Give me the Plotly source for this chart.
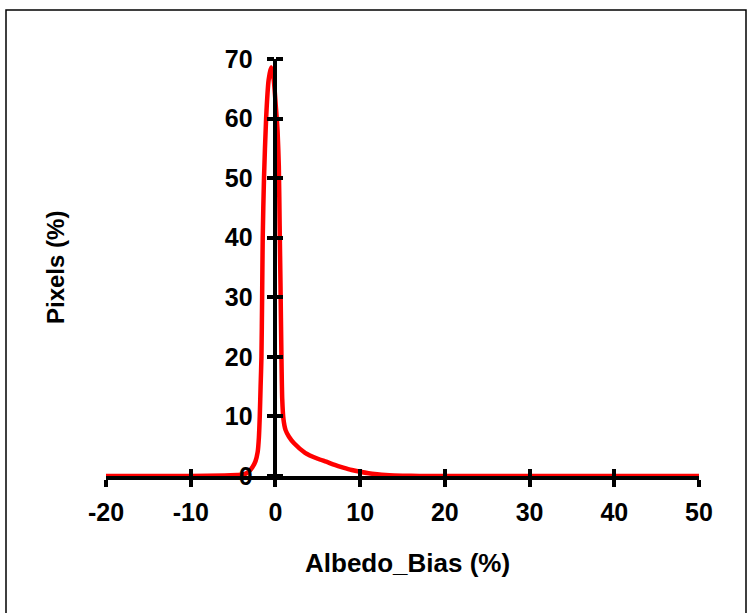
import plotly.graph_objects as go

# Data
bias = [-20, -15, -10, -6, -4.5, -4.0, -3.5, -3.1, -2.7, -2.35, -2.1, -1.95, -1.85, -1.75,
        -1.65, -1.57, -1.5, -1.35, -1.1, -0.8, -0.5, -0.2, 0.05, 0.25, 0.4, 0.5, 0.6, 0.7,
        0.8, 0.95, 1.2, 1.6, 2.2, 3.5, 5, 6, 7, 8, 9, 10, 11, 12, 13, 14, 16, 18, 20,
        25, 30, 35, 40, 45, 50]
pixels = [0, 0, 0.02, 0.08, 0.15, 0.2, 0.4, 0.8, 1.5, 2.5, 4, 6.5, 10, 15,
          20, 30, 40, 50, 60, 66.5, 68.6, 66.5, 62, 58, 52, 42, 32, 21,
          13, 9.5, 7.7, 6.6, 5.5, 3.9, 2.9, 2.4, 1.85, 1.4, 1.0, 0.7, 0.45, 0.28, 0.15, 0.08, 0.03, 0.01, 0,
          0, 0, 0, 0, 0, 0]

x_ticks = [-20, -10, 0, 10, 20, 30, 40, 50]
x_ticktext = ["-20", "-10", "0", "10", "20", "30", "40", "50"]
y_ticks = [0, 10, 20, 30, 40, 50, 60, 70]
y_ticktext = ["0", "10", "20", "30", "40", "50", "60", "70"]
x_range = [-20, 50]
y_range = [0, 70]

FONT = "Arial, 'Liberation Sans', sans-serif"

W, H = 749, 613
ML, MR, MT, MB = 106, 50, 59, 137
pw = W - ML - MR
ph = H - MT - MB

fig = go.Figure()
fig.add_trace(go.Scatter(
    x=bias, y=pixels, mode="lines",
    line=dict(color="#FF0000", width=4.5, shape="spline", smoothing=0.6),
    cliponaxis=False, showlegend=False, hoverinfo="skip"))
# dummy trace for overlay axes (cross ticks)
fig.add_trace(go.Scatter(x=[None], y=[None], xaxis="x2", yaxis="y2",
                         showlegend=False, hoverinfo="skip"))

ypos = (0 - x_range[0]) / (x_range[1] - x_range[0])
TICKFONT = dict(family=FONT, size=25, color="black", weight="bold")

fig.update_layout(
    width=W, height=H,
    margin=dict(l=ML, r=MR, t=MT, b=MB),
    paper_bgcolor="white", plot_bgcolor="white",
    font=dict(family=FONT, size=22, color="black"),
    xaxis=dict(range=x_range, tickvals=x_ticks, ticktext=x_ticktext,
               showgrid=False, zeroline=False,
               showline=True, linecolor="black", linewidth=3.5,
               ticks="outside", ticklen=7, tickwidth=3.5, tickcolor="black",
               tickfont=TICKFONT, ticklabelstandoff=4),
    xaxis2=dict(range=x_range, tickvals=x_ticks, overlaying="x", anchor="y", side="bottom",
                showgrid=False, zeroline=False, showline=False,
                ticks="inside", ticklen=7, tickwidth=3.5, tickcolor="black",
                showticklabels=False),
    yaxis=dict(range=y_range, tickvals=y_ticks, ticktext=y_ticktext,
               showgrid=False, zeroline=False,
               anchor="free", position=ypos,
               showline=True, linecolor="black", linewidth=3.5,
               ticks="outside", ticklen=7, tickwidth=3.5, tickcolor="black",
               tickfont=TICKFONT, ticklabelstandoff=9),
    yaxis2=dict(range=y_range, tickvals=y_ticks, overlaying="y", anchor="free", position=ypos,
                side="right", showgrid=False, zeroline=False, showline=False,
                ticks="outside", ticklen=7, tickwidth=3.5, tickcolor="black",
                showticklabels=False),
    annotations=[
        dict(text="<b>Albedo_Bias (%)</b>", xref="paper", yref="paper",
             x=(408 - ML) / pw, y=(H - MB - 563) / ph, showarrow=False,
             xanchor="center", yanchor="middle",
             font=dict(family=FONT, size=26, color="black")),
        dict(text="<b>Pixels (%)</b>", xref="paper", yref="paper",
             x=(55 - ML) / pw, y=(H - MB - 268) / ph, showarrow=False, textangle=-90,
             xanchor="center", yanchor="middle",
             font=dict(family=FONT, size=24, color="black")),
    ],
    shapes=[
        dict(type="rect", xref="paper", yref="paper",
             x0=(6 - ML) / pw, x1=(746 - ML) / pw,
             y0=(H - MB - 616) / ph, y1=(H - MB - 10) / ph,
             line=dict(color="black", width=1.5), fillcolor="rgba(0,0,0,0)", layer="below"),
    ],
)

fig.write_html("out.html")
